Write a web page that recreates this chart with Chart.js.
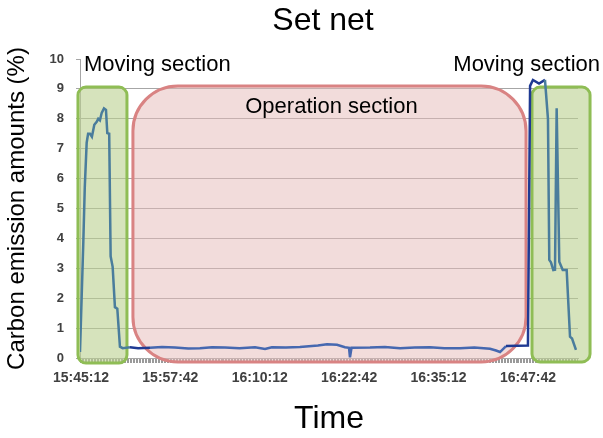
<!DOCTYPE html>
<html>
<head>
  <meta charset="utf-8">
  <title>Set net</title>
  <script src="https://cdn.jsdelivr.net/npm/chart.js"></script>
  <style>
    body { margin: 0; background: #fff; }
    #chart { display: block; }
  </style>
</head>
<body>
  <canvas id="chart" width="603" height="438"></canvas>
  <script>
    // seconds after 15:45:12 and carbon emission (%)
    const seconds = [-8, 20, 32, 48, 60, 76, 92, 112, 132, 145, 159, 174, 193, 210, 221, 237, 249, 266, 285, 305, 327, 350,
      411, 480, 579, 680, 789, 900, 998, 1100, 1208, 1330, 1460, 1544, 1602, 1720, 1837, 1988, 2064, 2148, 2215, 2249, 2257, 2270,
      2425, 2550, 2677, 2800, 2928, 3050, 3180, 3300, 3432, 3482, 3516, 3566, 3750,
      3768, 3792, 3843, 3893, 3918, 3929, 3943, 3963, 3977, 3991, 4013, 4042, 4075, 4103, 4120, 4153];
    const emission = [0.2, 3.9, 5.7, 7.2, 7.5, 7.5, 7.4, 7.8, 7.9, 8.0, 7.95, 8.2, 8.35, 8.3, 7.52, 7.5, 3.4, 3.05, 1.7, 1.65, 0.38, 0.33,
      0.36, 0.33, 0.34, 0.37, 0.35, 0.32, 0.33, 0.36, 0.35, 0.33, 0.36, 0.3, 0.36, 0.35, 0.37, 0.42, 0.46, 0.44, 0.36, 0.34, 0.02, 0.34,
      0.35, 0.37, 0.33, 0.35, 0.36, 0.33, 0.33, 0.35, 0.31, 0.25, 0.2, 0.4, 0.42,
      9.1, 9.3, 9.18, 9.3, 8.0, 3.28, 3.2, 2.94, 2.95, 8.35, 3.22, 2.94, 2.94, 0.71, 0.65, 0.27];

    const labelStep = 750; // 12.5 min between labelled ticks
    const startTime = 15 * 3600 + 45 * 60 + 12;

    // highlighted sections (time in s, value in %)
    const sections = [
      { name: 'Moving section', from: -25, to: 386, low: -0.17, high: 9.06, radius: 8, kind: 'move' },
      { name: 'Operation section', from: 436, to: 3734, low: -0.13, high: 9.1, radius: 45, kind: 'op' },
      { name: 'Moving section', from: 3784, to: 4271, low: -0.13, high: 9.06, radius: 8, kind: 'move' }
    ];

    const FONT = '"Liberation Sans", Arial, sans-serif';
    const styles = {
      move: { fill: 'rgba(187,208,143,0.6)', stroke: '#8fbd55', line: '#4a7d9c' },
      op: { fill: 'rgba(229,185,183,0.5)', stroke: '#d98383', line: '#4668b0' }
    };
    const lineNavy = '#1f3a93';

    function fmtTime(s) {
      const t = startTime + s;
      const h = Math.floor(t / 3600), m = Math.floor(t % 3600 / 60), sec = t % 60;
      return h + ':' + String(m).padStart(2, '0') + ':' + String(sec).padStart(2, '0');
    }

    function boxPx(chart, b) {
      const x = chart.scales.x, y = chart.scales.y;
      return { l: x.getPixelForValue(b.from), r: x.getPixelForValue(b.to),
        t: y.getPixelForValue(b.high), bt: y.getPixelForValue(b.low), rad: b.radius };
    }

    function inside(px, py, p) {
      if (px < p.l || px > p.r || py < p.t || py > p.bt) return false;
      const cx = Math.min(Math.max(px, p.l + p.rad), p.r - p.rad);
      const cy = Math.min(Math.max(py, p.t + p.rad), p.bt - p.rad);
      const dx = px - cx, dy = py - cy;
      return dx * dx + dy * dy <= p.rad * p.rad;
    }

    function roundBox(ctx, p) {
      const r = p.rad;
      ctx.beginPath();
      ctx.moveTo(p.l + r, p.t);
      ctx.lineTo(p.r - r, p.t);
      ctx.arcTo(p.r, p.t, p.r, p.t + r, r);
      ctx.lineTo(p.r, p.bt - r);
      ctx.arcTo(p.r, p.bt, p.r - r, p.bt, r);
      ctx.lineTo(p.l + r, p.bt);
      ctx.arcTo(p.l, p.bt, p.l, p.bt - r, r);
      ctx.lineTo(p.l, p.t + r);
      ctx.arcTo(p.l, p.t, p.l + r, p.t, r);
      ctx.closePath();
    }

    const sectionPlugin = {
      id: 'sections',
      beforeDatasetsDraw(chart) {
        const ctx = chart.ctx;
        ctx.save();
        sections.forEach(b => {
          const p = boxPx(chart, b);
          roundBox(ctx, p);
          ctx.fillStyle = styles[b.kind].fill;
          ctx.fill();
          ctx.lineWidth = 3;
          ctx.strokeStyle = styles[b.kind].stroke;
          ctx.stroke();
        });
        ctx.restore();
      },
      afterDraw(chart) {
        const ctx = chart.ctx, y = chart.scales.y, area = chart.chartArea;
        ctx.save();
        ctx.fillStyle = '#000';
        ctx.textBaseline = 'middle';
        // main title, centred a little right of the canvas middle like the source
        ctx.font = '32px ' + FONT;
        ctx.textAlign = 'center';
        ctx.fillText('Set net', (area.left + area.right) / 2 - 6, 21);

        ctx.font = '22px ' + FONT;
        const a = boxPx(chart, sections[0]), b = boxPx(chart, sections[1]), c = boxPx(chart, sections[2]);
        ctx.textAlign = 'left';
        ctx.fillText(sections[0].name, a.l + 6, y.getPixelForValue(9.8));
        ctx.textAlign = 'right';
        ctx.fillText(sections[2].name, c.r + 10, y.getPixelForValue(9.8));
        ctx.textAlign = 'center';
        ctx.fillText(sections[1].name, (b.l + b.r) / 2 + 2, y.getPixelForValue(8.4));
        ctx.restore();
      }
    };

    const points = seconds.map((s, i) => ({ x: s, y: emission[i] }));

    function segColor(c) {
      const mx = (c.p0.x + c.p1.x) / 2, my = (c.p0.y + c.p1.y) / 2;
      for (const b of sections) {
        if (inside(mx, my, boxPx(c.chart, b))) return styles[b.kind].line;
      }
      return lineNavy;
    }

    new Chart('chart', {
      type: 'line',
      data: {
        datasets: [{
          data: points,
          borderColor: lineNavy,
          borderWidth: 2.5,
          pointRadius: 0,
          tension: 0,
          segment: { borderColor: segColor }
        }]
      },
      options: {
        responsive: false,
        animation: false,
        layout: { padding: { left: 0, right: 25, top: 59, bottom: 0 } },
        plugins: {
          legend: { display: false },
          tooltip: { enabled: false },
          title: { display: false }
        },
        scales: {
          x: {
            type: 'linear',
            min: -8,
            max: 4170,
            afterBuildTicks(scale) {
              // one small mark per sample, like the spreadsheet category axis
              const t = [];
              for (let v = 0; v <= 4170; v += 12.5) t.push({ value: v });
              scale.ticks = t;
            },
            ticks: {
              autoSkip: false,
              maxRotation: 0,
              minRotation: 0,
              padding: 7,
              color: '#404040',
              font: { family: FONT, size: 14, weight: 'bold' },
              callback: v => (v % labelStep === 0 ? fmtTime(v) : '')
            },
            grid: { drawOnChartArea: false, tickLength: 5, color: '#9a9a9a' },
            border: { color: '#a6a6a6' },
            title: {
              display: true,
              text: 'Time',
              color: '#000',
              font: { family: FONT, size: 32 },
              padding: { top: 0, bottom: 0 }
            },
            afterFit(scale) { scale.height = 80; }
          },
          y: {
            min: 0,
            max: 10,
            ticks: {
              stepSize: 1,
              padding: 12,
              color: '#404040',
              font: { family: FONT, size: 13, weight: 'bold' }
            },
            grid: {
              color: c => (c.tick.value === 10 ? 'rgba(0,0,0,0)' : '#a6a6a6'),
              tickColor: '#a6a6a6',
              tickLength: 4
            },
            border: { color: '#a6a6a6' },
            title: {
              display: true,
              text: 'Carbon emission amounts (%)',
              color: '#000',
              font: { family: FONT, size: 24 },
              padding: { top: 3, bottom: 0 }
            },
            afterFit(scale) { scale.width = 80; }
          }
        }
      },
      plugins: [sectionPlugin]
    });
  </script>
</body>
</html>
